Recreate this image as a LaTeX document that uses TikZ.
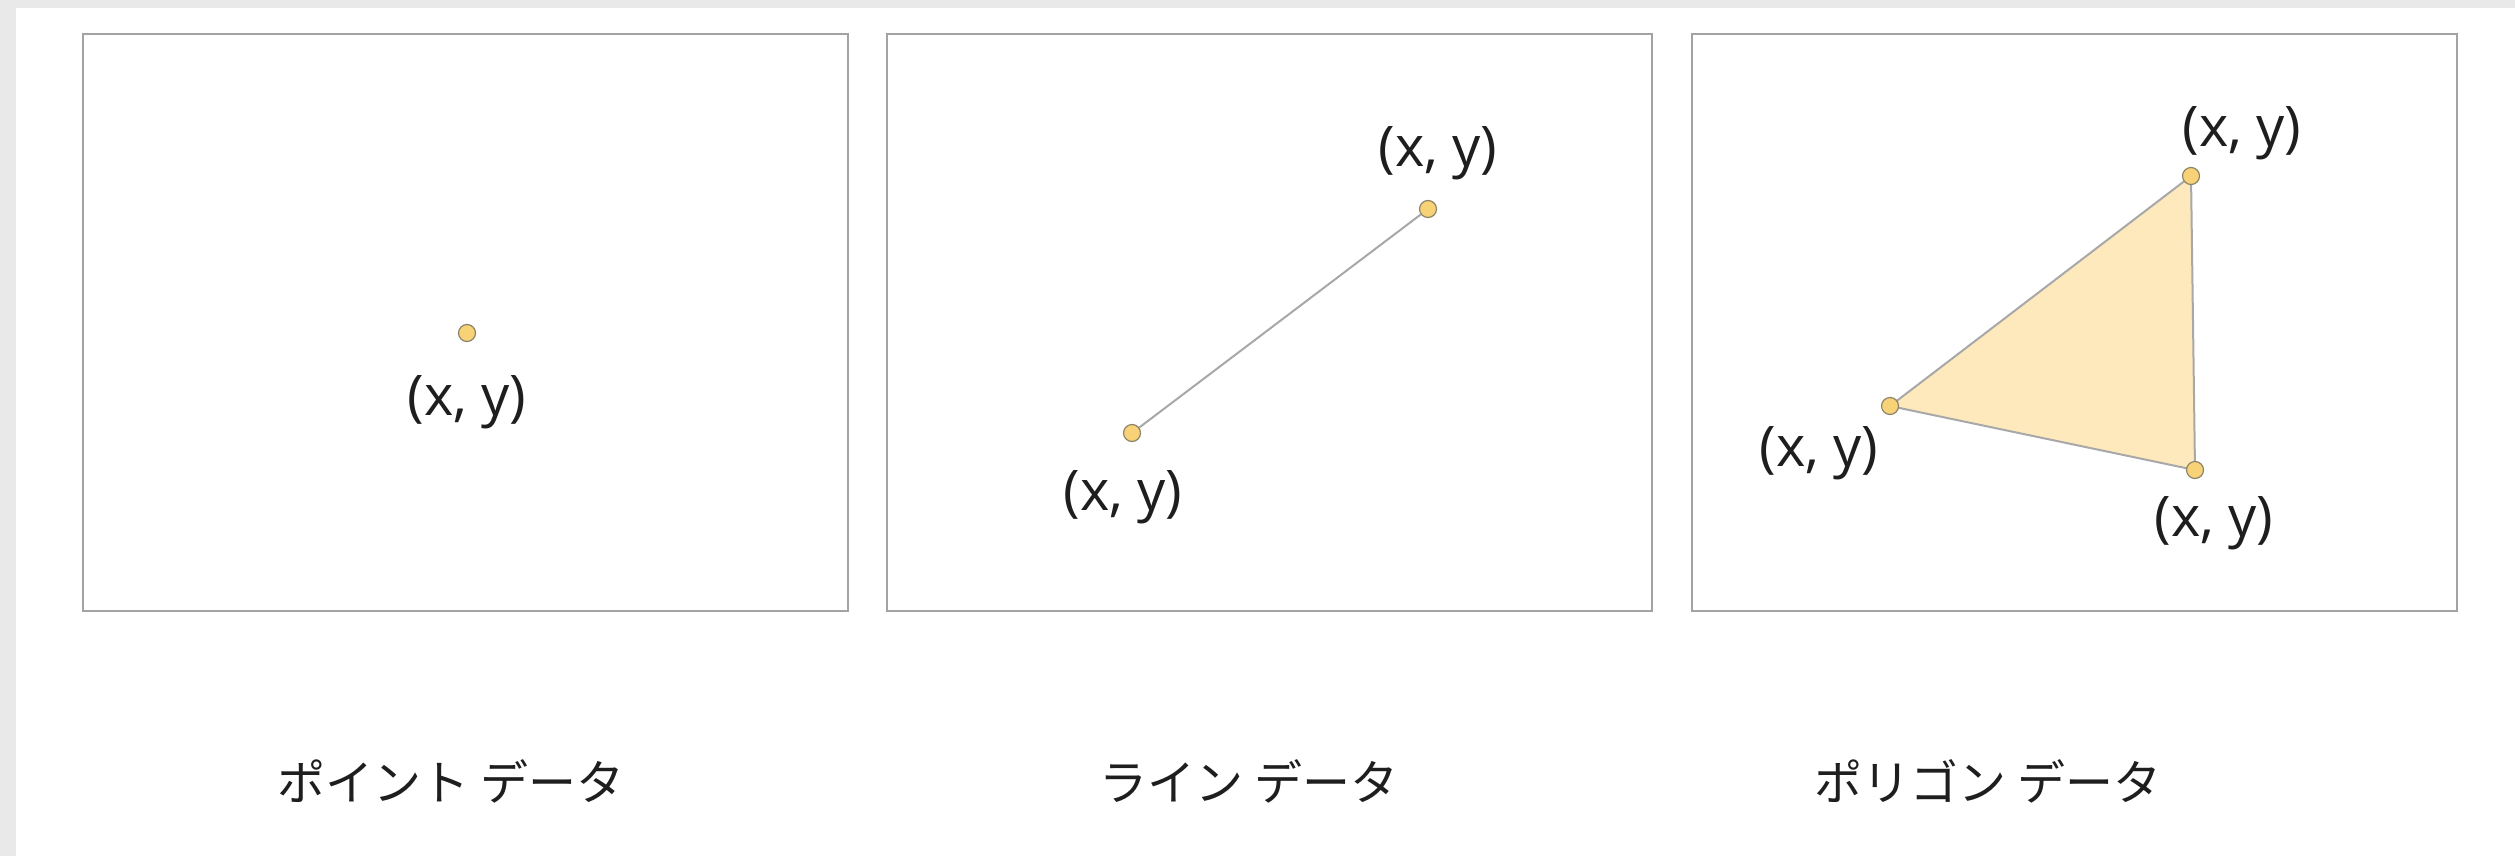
\documentclass[tikz,border=0pt]{standalone}
\usepackage{fontspec}
\setmainfont{Open Sans}
\newfontfamily\jpfont{Noto Sans CJK JP}
\definecolor{bggray}{HTML}{E9E9E9}
\definecolor{framegray}{HTML}{A3A3A3}
\definecolor{dotfill}{HTML}{F8D277}
\definecolor{dotedge}{HTML}{8C8468}
\definecolor{polyfill}{HTML}{FDE9BC}
\definecolor{edgegray}{HTML}{A8A8A8}
\definecolor{txt}{HTML}{1E1E1E}
\tikzset{
  panel/.style={draw=framegray, line width=2.8pt, fill=white},
  vtx/.style={circle, draw=dotedge, fill=dotfill, line width=1.2pt, minimum size=17pt, inner sep=0pt},
  coord/.style={font=\fontsize{56}{60}\selectfont, text=txt, inner sep=0pt},
  caption/.style={font=\jpfont\fontsize{48}{56}\selectfont, text=txt, inner sep=0pt},
  feat/.style={draw=edgegray, line width=2pt}
}
\begin{document}
\begin{tikzpicture}[x=1pt,y=-1pt]
\useasboundingbox (0,0) rectangle (2515,856);
\fill[white] (0,0) rectangle (2515,856);
\fill[bggray] (0,0) rectangle (2515,8);
\fill[bggray] (0,0) rectangle (16,856);
% panels
\draw[panel] (83,34) rectangle (848,611);
\draw[panel] (887,34) rectangle (1652,611);
\draw[panel] (1692,34) rectangle (2457,611);
% point
\node[vtx] (p1) at (467,333) {};
\node[coord] (lp1) at (467,402) {(x, y)};
% line
\node[vtx] (l1) at (1132,433) {};
\node[vtx] (l2) at (1428,209) {};
\draw[feat] (l1) -- (l2);
\node[coord] (ll1) at (1123,497) {(x, y)};
\node[coord] (ll2) at (1438,153) {(x, y)};
% polygon
\coordinate (ta) at (2191,176);
\coordinate (tb) at (1890,406);
\coordinate (tc) at (2195,470);
\filldraw[feat, fill=polyfill] (ta) -- (tb) -- (tc) -- cycle;
\node[vtx] (g1) at (ta) {};
\node[vtx] (g2) at (tb) {};
\node[vtx] (g3) at (tc) {};
\node[coord] (lg1) at (2242,133) {(x, y)};
\node[coord] (lg2) at (1819,453) {(x, y)};
\node[coord] (lg3) at (2214,523) {(x, y)};
% captions
\node[caption] (c1) at (451,781) {ポイント データ};
\node[caption] (c2) at (1249,781) {ライン データ};
\node[caption] (c3) at (1988,781) {ポリゴン データ};
\end{tikzpicture}
\end{document}
